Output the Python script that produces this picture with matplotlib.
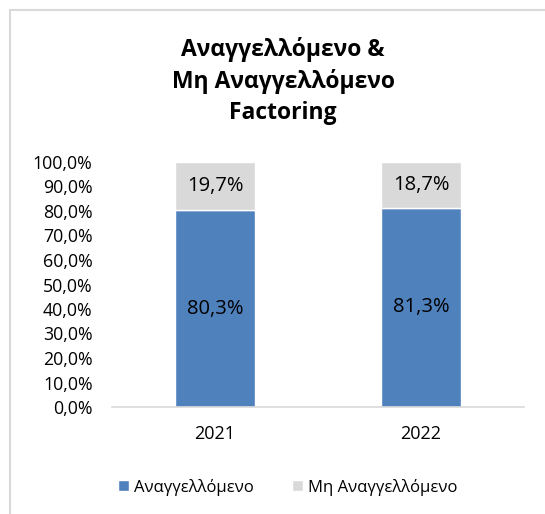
import matplotlib.pyplot as plt
from matplotlib.patches import Rectangle

plt.rcParams['font.family'] = ['Open Sans', 'DejaVu Sans']

years = ['2021', '2022']
reported = [80.3, 81.3]
not_reported = [19.7, 18.7]
series_names = ['Αναγγελλόμενο', 'Μη Αναγγελλόμενο']
title = 'Αναγγελλόμενο &\nΜη Αναγγελλόμενο\nFactoring'

blue = '#4F81BD'
grey = '#D9D9D9'

fig = plt.figure(figsize=(5.45, 5.14), dpi=100)
# chart border like the office frame
fig.patches.append(Rectangle((10 / 545, -0.1), 1.2, 1 - 10 / 514 + 0.1,
                             transform=fig.transFigure, fill=False,
                             edgecolor='#D9D9D9', linewidth=1.5))

ax = fig.add_axes([112 / 545, 1 - 407 / 514, 412 / 545, 245 / 514])
x = range(len(years))
b1 = ax.bar(x, reported, width=0.39, color=blue, edgecolor='white', linewidth=1, label=series_names[0])
b2 = ax.bar(x, not_reported, width=0.39, bottom=reported, color=grey, edgecolor='white', linewidth=1,
            label=series_names[1])

for rects, vals in ((b1, reported), (b2, not_reported)):
    for r, v in zip(rects, vals):
        ax.text(r.get_x() + r.get_width() / 2, r.get_y() + r.get_height() / 2,
                f'{v:.1f}%'.replace('.', ','), ha='center', va='center', fontsize=14.5, color='black')

ax.set_xlim(-0.5, 1.5)
ax.set_ylim(0, 100)
ax.set_yticks(range(0, 101, 10))
ax.set_yticklabels([f'{t:.1f}%'.replace('.', ',') for t in range(0, 101, 10)], fontsize=12.8)
ax.set_xticks(list(x))
ax.set_xticklabels(years, fontsize=13)
ax.tick_params(axis='y', length=0, pad=14)
ax.tick_params(axis='x', length=0, pad=13)
for s in ['top', 'right', 'left']:
    ax.spines[s].set_visible(False)
ax.spines['bottom'].set_color('#D9D9D9')
ax.spines['bottom'].set_linewidth(1.2)

fig.text(283 / 545, 1 - 81 / 514, title, ha='center', va='center', fontsize=16.5,
         fontweight='bold', linespacing=1.4)

fig.legend(handles=[b1, b2], labels=series_names, loc='center', bbox_to_anchor=(288 / 545, 1 - 487 / 514),
           ncol=2, frameon=False, fontsize=12, handlelength=0.65, handleheight=0.65,
           handletextpad=0.3, columnspacing=2.3)

fig.savefig('out.png', dpi=100)
